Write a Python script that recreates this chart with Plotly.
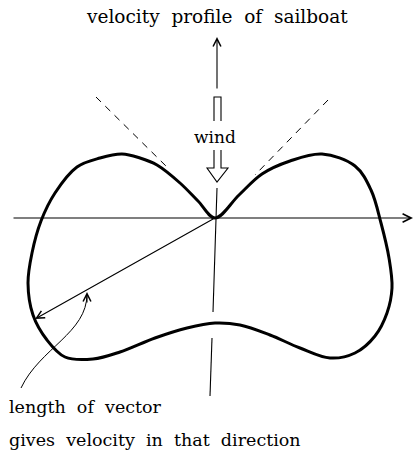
import plotly.graph_objects as go

# Velocity profile: velocity components (east, north) for each heading,
# traced from the cusp at the origin, round the starboard lobe, then the port lobe back to the origin.
vel_east = [0, 24, 47, 75, 107, 140, 156, 166, 174, 177, 172, 160, 140, 115, 85, 55, 25, 0,
            -28, -60, -95, -122, -150, -168, -182, -187, -183, -174, -160, -138, -115, -93,
            -75, -58, -35, -17, 0]
vel_north = [0, 23, 44, 57, 64, 52, 28, -5, -40, -70, -95, -118, -135, -140, -130, -117, -107, -105,
             -110, -120, -134, -141, -139, -122, -97, -65, -35, -3, 25, 51, 60, 64,
             60, 53, 35, 17, 0]

# Example vector drawn from origin to the curve
vector_tip = (-180, -101)

title_text = "velocity\u00a0\u00a0profile\u00a0\u00a0of\u00a0\u00a0sailboat"
wind_text = "wind"
note_line1 = "length\u00a0\u00a0of\u00a0\u00a0vector"
note_line2 = "gives\u00a0\u00a0velocity\u00a0\u00a0in\u00a0\u00a0that\u00a0\u00a0direction"

INK = "#000000"

fig = go.Figure()
fig.add_trace(go.Scatter(x=vel_east, y=vel_north, mode="lines",
                         line=dict(color=INK, width=3, shape="spline", smoothing=1.0),
                         hoverinfo="skip", showlegend=False))

shapes = []
# dashed 45-degree no-go lines
shapes.append(dict(type="line", x0=-119, y0=121, x1=-45, y1=48, xref="x", yref="y",
                   line=dict(color=INK, width=1, dash="7px,6px")))
shapes.append(dict(type="line", x0=113, y0=118, x1=40, y1=43, xref="x", yref="y",
                   line=dict(color=INK, width=1, dash="7px,6px")))
# vertical axis below wind arrow
shapes.append(dict(type="line", x0=2, y0=30, x1=-2, y1=-94, xref="x", yref="y",
                   line=dict(color=INK, width=1.1)))
shapes.append(dict(type="line", x0=-3, y0=-120, x1=-5, y1=-178, xref="x", yref="y",
                   line=dict(color=INK, width=1.1)))
# hollow wind arrow (upper shaft + lower shaft with head)
shapes.append(dict(type="path", path="M -1,97 L -1,121 L 6,121 L 6,97", xref="x", yref="y",
                   line=dict(color=INK, width=1.1)))
shapes.append(dict(type="path", path="M -1,68 L -1,50 L -8,50 L 2,36 L 13,50 L 6,50 L 6,68",
                   xref="x", yref="y", line=dict(color=INK, width=1.1)))
# curved pointer
shapes.append(dict(type="path", path="M -194,-170 C -175,-130 -128,-115 -128,-76",
                   xref="x", yref="y", line=dict(color=INK, width=1)))
fig.update_layout(shapes=shapes)

ann = []
def arrow(x, y, ax, ay, w=1.1, size=1.4):
    ann.append(dict(x=x, y=y, ax=ax, ay=ay, xref="x", yref="y", axref="x", ayref="y",
                    text="", showarrow=True, arrowhead=5, arrowwidth=w, arrowsize=size,
                    arrowcolor=INK))

arrow(198, 0, -203, 0, w=1.2)           # horizontal axis
arrow(2, 181, 2, 128)                    # upward axis arrow
arrow(vector_tip[0], vector_tip[1], 0, 0)  # velocity vector
arrow(-128, -74, -128, -86)              # curved pointer head

TF = dict(family="DejaVu Serif", size=17.5, color=INK)
ann.append(dict(x=2, y=202, xref="x", yref="y", text=title_text, showarrow=False,
                font=dict(family="DejaVu Serif", size=18.5, color=INK)))
ann.append(dict(x=0, y=81, xref="x", yref="y", text=wind_text, showarrow=False,
                font=dict(family="DejaVu Serif", size=17, color=INK)))
ann.append(dict(x=-208, y=-189, xref="x", yref="y", text=note_line1, showarrow=False,
                xanchor="left", font=TF))
ann.append(dict(x=-208, y=-222, xref="x", yref="y", text=note_line2, showarrow=False,
                xanchor="left", font=TF))
fig.update_layout(annotations=ann)

fig.update_layout(width=415, height=452, autosize=False,
                  margin=dict(l=0, r=0, t=0, b=0),
                  paper_bgcolor="white", plot_bgcolor="white",
                  xaxis=dict(range=[-215, 200], visible=False, fixedrange=True),
                  yaxis=dict(range=[-234, 218], visible=False, fixedrange=True),
                  showlegend=False)

fig.write_html("out.html", config={"displayModeBar": False, "staticPlot": True},
               post_script="document.body.style.margin='0';document.body.style.overflow='hidden';")
